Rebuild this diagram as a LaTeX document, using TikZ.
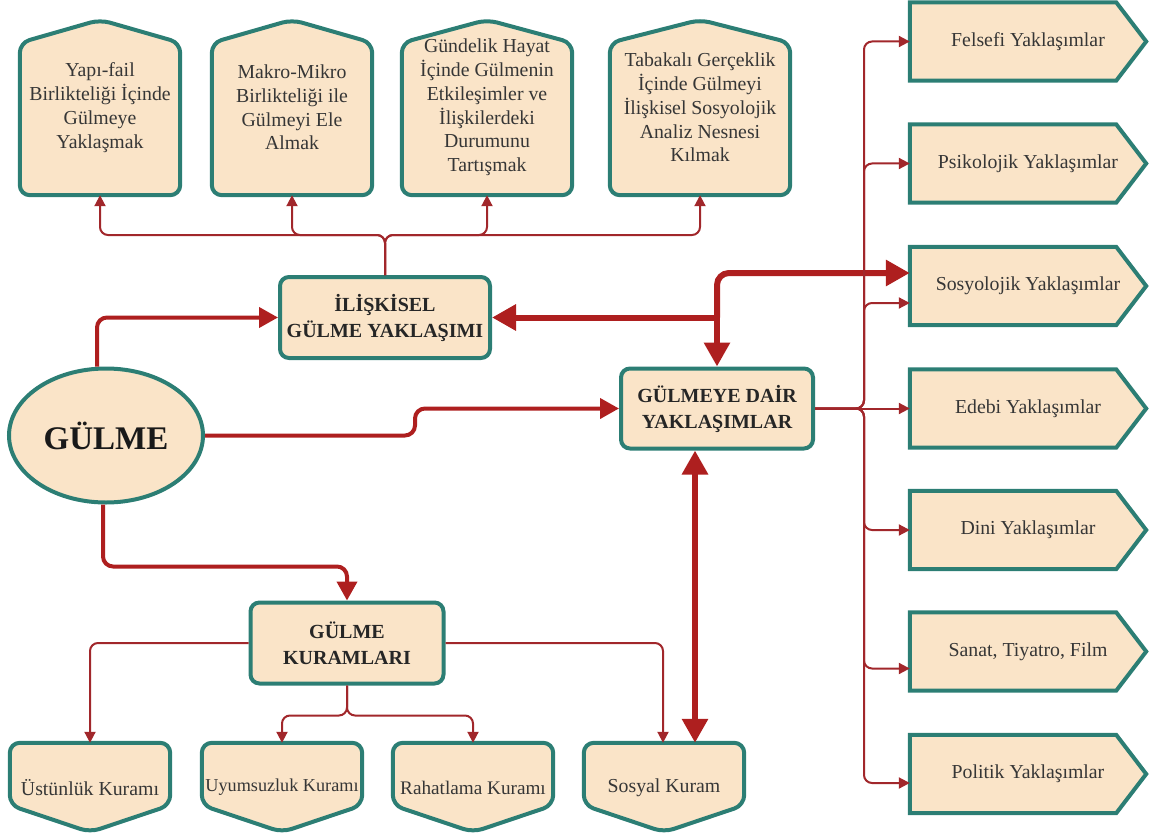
\documentclass[tikz,border=0pt]{standalone}
\usepackage{fontspec}
\setmainfont{Liberation Serif}
\usetikzlibrary{arrows.meta,calc,shapes.geometric,backgrounds}
\definecolor{boxfill}{HTML}{FAE4C8}
\definecolor{boxline}{HTML}{2C7E74}
\definecolor{linkred}{HTML}{A1272B}
\definecolor{boldred}{HTML}{AE1F1F}
\definecolor{txtgray}{HTML}{363636}
\newcommand\drawHouse[1]{\draw[shapeline, rounded corners=10pt] (#1.south west) -- ($(#1.north west)+(0,23)$) -- (#1.north) -- ($(#1.north east)+(0,23)$) -- (#1.south east) -- cycle;}
\newcommand\drawTag[1]{\draw[shapeline, line join=miter] (#1.north west) -- ($(#1.north east)+(-30,0)$) -- (#1.east) -- ($(#1.south east)+(-30,0)$) -- (#1.south west) -- cycle;}
\newcommand\drawShield[1]{\draw[shapeline, rounded corners=10pt] (#1.north west) -- (#1.north east) -- ($(#1.south east)+(0,-27)$) -- (#1.south) -- ($(#1.south west)+(0,-27)$) -- cycle;}
\begin{document}
\begin{tikzpicture}[x=1pt,y=-1pt,
  txt/.style={inner sep=0pt, align=center, text=txtgray, font=\fontsize{19.8}{23.8}\selectfont},
  house/.style={txt, minimum width=#1, minimum height=175pt},
  tag/.style={txt, minimum width=236pt, minimum height=78pt},
  shield/.style={txt, minimum width=160pt, minimum height=89pt},
  shapeline/.style={draw=boxline, fill=boxfill, line width=4pt, line join=round},
  head/.style={draw=boxline, fill=boxfill, line width=4pt, rounded corners=9pt, inner sep=0pt, align=center, text=black!85, font=\fontsize{20}{26}\selectfont\bfseries},
  thinarrow/.style={draw=linkred, line width=2pt, rounded corners=8pt, -{Triangle[length=11pt,width=11pt]}},
  medarrow/.style={draw=boldred, line width=4pt, rounded corners=10pt, -{Triangle[length=19pt,width=20pt]}},
  bigarrow/.style={draw=boldred, line width=6pt, rounded corners=12pt},
  bigtip/.tip={Triangle[length=24pt,width=25pt]}
]
\useasboundingbox (0,0) rectangle (1150,837);

% top boxes
\node[house=160pt] (b1) at (100,107.5) {Yapı-fail\\Birlikteliği İçinde\\Gülmeye\\Yaklaşmak};
\node[house=160pt] (b2) at (292,107.5) {Makro-Mikro\\Birlikteliği ile\\Gülmeyi Ele\\Almak};
\node[house=170pt] (b3) at (487,107.5) {Gündelik Hayat\\İçinde Gülmenin\\Etkileşimler ve\\İlişkilerdeki\\Durumunu\\Tartışmak};
\node[house=180pt] (b4) at (700,107.5) {Tabakalı Gerçeklik\\İçinde Gülmeyi\\İlişkisel Sosyolojik\\Analiz Nesnesi\\Kılmak};

% right boxes
\node[tag] (r1) at (1028,41.5) {Felsefi Yaklaşımlar};
\node[tag] (r2) at (1028,163.5) {Psikolojik Yaklaşımlar};
\node[tag] (r3) at (1028,286) {Sosyolojik Yaklaşımlar};
\node[tag] (r4) at (1028,408.5) {Edebi Yaklaşımlar};
\node[tag] (r5) at (1028,530) {Dini Yaklaşımlar};
\node[tag] (r6) at (1028,651.5) {Sanat, Tiyatro, Film};
\node[tag] (r7) at (1028,774) {Politik Yaklaşımlar};

% bottom boxes
\node[shield] (k1) at (90,787.5) {Üstünlük Kuramı};
\node[shield, font=\fontsize{18.2}{22}\selectfont] (k2) at (282,787.5) {Uyumsuzluk Kuramı};
\node[shield, font=\fontsize{19.2}{22}\selectfont] (k3) at (473,787.5) {Rahatlama Kuramı};
\node[shield] (k4) at (664,787.5) {Sosyal Kuram};

\begin{scope}[on background layer]
\drawHouse{b1}\drawHouse{b2}\drawHouse{b3}\drawHouse{b4}
\drawTag{r1}\drawTag{r2}\drawTag{r3}\drawTag{r4}\drawTag{r5}\drawTag{r6}\drawTag{r7}
\drawShield{k1}\drawShield{k2}\drawShield{k3}\drawShield{k4}
\end{scope}

% central nodes
\node[head, minimum width=210pt, minimum height=81pt] (ilis) at (385,317.5) {İLİŞKİSEL\\GÜLME YAKLAŞIMI};
\node[head, minimum width=192pt, minimum height=80pt] (gd) at (717,408.5) {GÜLMEYE DAİR\\YAKLAŞIMLAR};
\node[head, minimum width=193pt, minimum height=81pt] (gk) at (347,643) {GÜLME\\KURAMLARI};
\node[ellipse, draw=boxline, fill=boxfill, line width=4pt, inner sep=0pt, minimum width=194pt, minimum height=134pt, text=black!90, font=\fontsize{33}{36}\selectfont\bfseries] (gulme) at (106,435.5) {GÜLME};

% connectors from GÜLME
\draw[medarrow] ([xshift=-9pt]gulme.north) |- (ilis.west);
\draw[medarrow] (gulme.east) -- ++(210,0) |- (gd.west);
\draw[medarrow] ([xshift=-3pt]gulme.south) -- ++(0,62) -| (gk.north);

% top thin connectors
\foreach \b in {b1,b2,b3,b4}
  \draw[thinarrow] (ilis.north) -- ++(0,-40) -| (\b.south);

% thick connectors
\draw[bigarrow, sharp corners, bigtip-bigtip] (ilis.east) -| (gd.north);
\draw[bigarrow, -bigtip] (gd.north |- ilis.east) |- ([yshift=13pt]r3.west);
\draw[bigarrow, bigtip-bigtip] ([xshift=-22pt]gd.south) -- ([xshift=-22pt]gd.south |- k4.north);

% GÜLME KURAMLARI branches
\draw[thinarrow] (gk.west) -| (k1.north);
\draw[thinarrow] (gk.east) -| ([xshift=-1pt]k4.north);
\draw[thinarrow] (gk.south) -- ++(0,30) -| (k2.north);
\draw[thinarrow] (gk.south) -- ++(0,30) -| (k3.north);

% right side branches
\foreach \r/\d in {r1/0,r2/0,r3/-17,r5/0,r6/-17,r7/-9}
  \draw[thinarrow] (gd.east) -- ++(49,0) |- ([yshift=\d pt]\r.west);
\draw[thinarrow] (gd.east) -- (r4.west);
\end{tikzpicture}
\end{document}
